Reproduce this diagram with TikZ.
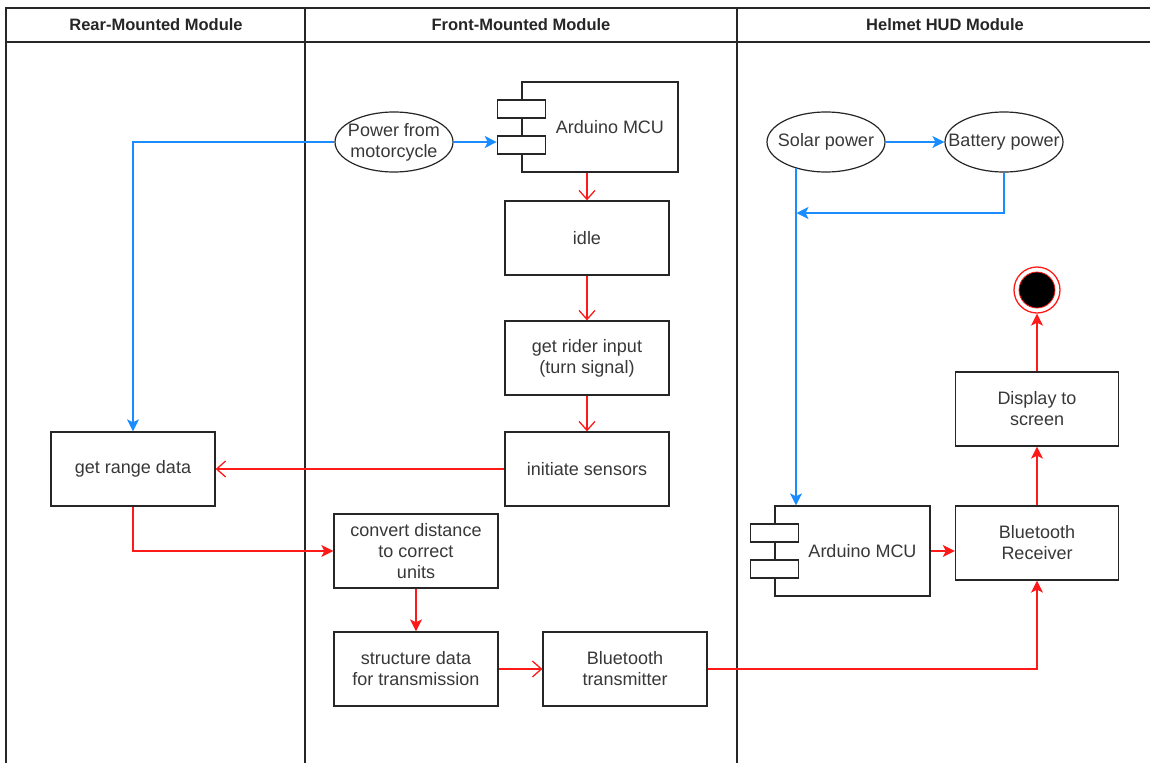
\documentclass[tikz,border=0pt]{standalone}
\usepackage{fontspec}
\setmainfont{Liberation Sans}
\usetikzlibrary{arrows.meta,shapes.geometric,calc}

\definecolor{flowred}{HTML}{FF1A1A}
\definecolor{flowblue}{HTML}{1A8CFF}
\definecolor{ink}{HTML}{262626}
\definecolor{txt}{HTML}{383838}

\tikzset{
  box/.style={draw=ink, line width=1.3pt, fill=white, rectangle,
    minimum width=164pt, minimum height=74pt, inner sep=0pt,
    align=center, text=txt, font=\fontsize{18}{21}\selectfont},
  comp/.style={draw=ink, line width=1.3pt, fill=white, rectangle,
    minimum width=156pt, minimum height=90pt, inner sep=0pt},
  tab/.style={draw=ink, line width=1.3pt, fill=white, rectangle,
    minimum width=48pt, minimum height=18pt, inner sep=0pt},
  lbl/.style={inner sep=0pt, align=center, text=txt, font=\fontsize{18}{21}\selectfont},
  % fixed-size ellipse; its text is a centred label so it may overrun the outline
  oval/.style={draw=ink, line width=1.2pt, fill=white, ellipse,
    minimum width=118pt, minimum height=60pt, inner sep=0pt,
    label={[lbl]center:#1}},
  lanehead/.style={inner sep=0pt, font=\bfseries\fontsize{16.5}{19}\selectfont, text=ink},
  lane/.style={draw=ink, line width=1.3pt},
  redfill/.style={draw=flowred, line width=1.3pt,
    -{Stealth[length=12pt,width=12pt,inset=3pt]}},
  redopen/.style={draw=flowred, line width=1.3pt,
    -{Straight Barb[length=9pt,width=16pt]}},
  bluefill/.style={draw=flowblue, line width=1.3pt,
    -{Stealth[length=12pt,width=12pt,inset=3pt]}},
}

\begin{document}
\begin{tikzpicture}[x=1pt,y=-1pt]
\useasboundingbox (0,0) rectangle (1150,763);

% swimlanes
\draw[lane] (6,763) -- (6,8) -- (1150,8);
\draw[lane] (6,42) -- (1150,42);
\draw[lane] (305,8) -- (305,763);
\draw[lane] (737,8) -- (737,763);
\node[lanehead] (hRear)  at (156,25) {Rear-Mounted Module};
\node[lanehead] (hFront) at (521,25) {Front-Mounted Module};
\node[lanehead] (hHelm)  at (945,25) {Helmet HUD Module};

% front-mounted module
\node[oval={Power from\\motorcycle}] (pwrM) at (394,142) {};
\node[comp] (mcuF) at (600,127) {};
\node[tab] (tabF1) at ($(mcuF.west)+(0,-18)$) {};
\node[tab] (tabF2) at ($(mcuF.west)+(0,18)$) {};
\node[lbl] (mcuFt) at ($(mcuF.center)+(10,0)$) {Arduino MCU};
\node[box] (idle)  at (587,238) {idle};
\node[box] (rider) at (587,358) {get rider input\\(turn signal)};
\node[box] (init)  at (587,469) {initiate sensors};
\node[box] (conv)  at (416,551) {convert distance\\to correct\\units};
\node[box] (struct) at (416,669) {structure data\\for transmission};
\node[box] (btTx)  at (625,669) {Bluetooth\\transmitter};

% rear-mounted module
\node[box] (range) at (133,469) {get range data};

% helmet HUD module
\node[oval={Solar power}] (solar) at (826,142) {};
\node[oval={Battery power}] (batt) at (1004,142) {};
\node[comp, minimum width=155pt] (mcuH) at (852.5,551) {};
\node[tab] (tabH1) at ($(mcuH.west)+(0,-18)$) {};
\node[tab] (tabH2) at ($(mcuH.west)+(0,18)$) {};
\node[lbl] (mcuHt) at ($(mcuH.center)+(10,0)$) {Arduino MCU};
\node[box, minimum width=163pt] (btRx) at (1037,543) {Bluetooth\\Receiver};
\node[box, minimum width=163pt] (disp) at (1037,409) {Display to\\screen};
\node[circle, draw=flowred, line width=1.3pt, fill=white, minimum size=46pt, inner sep=0pt] (endS) at (1037,290) {};
\node[circle, draw=flowred, line width=0.8pt, fill=black, minimum size=36pt, inner sep=0pt] (endC) at (endS.center) {};
% foot of the solar feed on the ellipse outline, and where the battery feed joins it
\coordinate (solarFoot) at (796,167.5);
\coordinate (join) at (796.5,213);

% power connections
\draw[bluefill] (pwrM.east) -- (pwrM.east -| tabF2.west);
\draw[bluefill] (pwrM.west) -| (range.north);
\draw[bluefill] (solar.east) -- (batt.west);
\draw[bluefill] (solarFoot) -- (solarFoot |- mcuH.north);
\draw[bluefill] (batt.south) |- (join);

% control flow
\draw[redopen] (mcuF.south -| idle.north) -- (idle.north);
\draw[redopen] (idle.south) -- (rider.north);
\draw[redopen] (rider.south) -- (init.north);
\draw[redopen] (init.west) -- (range.east);
\draw[redfill] (range.south) |- (conv.west);
\draw[redfill] (conv.south) -- (struct.north);
\draw[redopen] (struct.east) -- (btTx.west);
\draw[redfill] (btTx.east) -| (btRx.south);
\draw[redfill] (mcuH.east) -- (mcuH.east -| btRx.west);
\draw[redfill] (btRx.north) -- (disp.south);
\draw[redfill] (disp.north) -- (endS.south);
\end{tikzpicture}
\end{document}
